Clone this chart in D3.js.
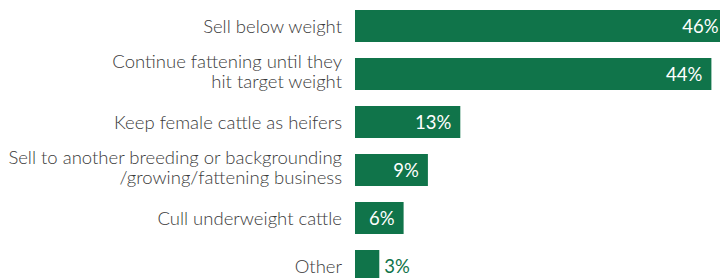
<!DOCTYPE html>
<html>
<head>
<meta charset="utf-8">
<script src="https://cdn.jsdelivr.net/npm/d3@7"></script>
<style>
    body { margin: 0; background: #fff; }
    svg { display: block; }
    .label { font-family: Lato, "Open Sans", sans-serif; font-weight: 300; font-size: 18.5px; fill: #3a3a3a; }
    .value { font-family: Lato, "Open Sans", sans-serif; font-size: 18.5px; }
</style>
</head>
<body>
<div class="chart-container"></div>
<script>
// categories (each entry is the lines of one label)
const categories = [
    ['Sell below weight'],
    ['Continue fattening until they', 'hit target weight'],
    ['Keep female cattle as heifers'],
    ['Sell to another breeding or backgrounding', '/growing/fattening business'],
    ['Cull underweight cattle'],
    ['Other']
];
const values = [46, 44, 13, 9, 6, 3];

const width = 720;
const height = 278;
const barLeft = 355;
const barColor = '#10744a';

const svg = d3.select('.chart-container').append('svg')
    .attr('width', width)
    .attr('height', height);

const x = d3.scaleLinear()
    .domain([0, 50])
    .range([barLeft, barLeft + 405]);

const y = d3.scaleBand()
    .domain(d3.range(categories.length))
    .range([2, 290])
    .paddingInner(1 / 3)
    .paddingOuter(1 / 6);

// bars
svg.selectAll('rect.bar')
    .data(values)
    .enter()
    .append('rect')
    .attr('class', 'bar')
    .attr('x', x(0))
    .attr('y', (d, i) => y(i))
    .attr('width', d => x(d) - x(0))
    .attr('height', y.bandwidth())
    .attr('fill', barColor);

// category labels
const labels = svg.selectAll('text.label')
    .data(categories)
    .enter()
    .append('text')
    .attr('class', 'label')
    .attr('text-anchor', 'end');

labels.each(function (lines, i) {
    const c = y(i) + y.bandwidth() / 2;
    const first = lines.length > 1 ? c - 6 : c + 7;
    d3.select(this).selectAll('tspan')
        .data(lines)
        .enter()
        .append('tspan')
        .attr('x', barLeft - 13)
        .attr('y', (l, j) => first + j * 19.5)
        .text(l => l);
});

// value labels: inside bar when wide enough, else outside
svg.selectAll('text.value')
    .data(values)
    .enter()
    .append('text')
    .attr('class', 'value')
    .attr('y', (d, i) => y(i) + y.bandwidth() / 2 + 7)
    .attr('x', d => d > 4 ? x(d) - 9 : x(d) + 5)
    .attr('text-anchor', d => d > 4 ? 'end' : 'start')
    .attr('fill', d => d > 4 ? '#fff' : barColor)
    .text(d => d + '%');
</script>
</body>
</html>
